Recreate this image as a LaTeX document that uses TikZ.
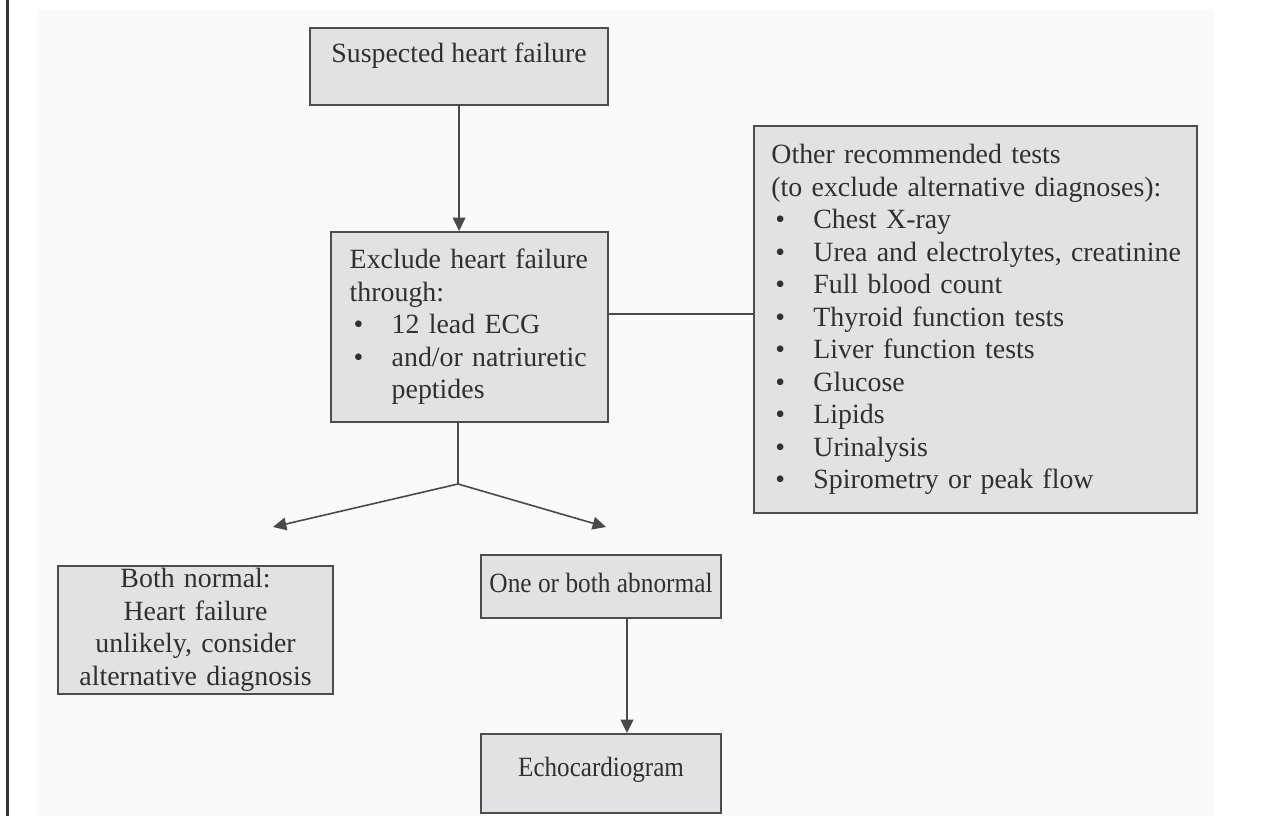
\documentclass[tikz,border=0pt]{standalone}
\usepackage{fontspec}
\usepackage{graphicx}
\setmainfont{Liberation Serif}
\usetikzlibrary{arrows.meta}
\definecolor{boxfill}{HTML}{E1E2E4}
\definecolor{boxline}{HTML}{4D4D4D}
\definecolor{conn}{HTML}{4A4A4A}
\definecolor{txt}{HTML}{303030}
\definecolor{bgpanel}{HTML}{FAFAFA}
\newcommand{\bitem}[1]{\mbox{\makebox[31.5pt][l]{\hspace{3pt}•}#1}}
\newcommand{\bcont}[1]{\mbox{\hspace*{31.5pt}#1}}
\begin{document}
\begin{tikzpicture}[x=0.75pt,y=-0.75pt,
  flowbox/.style={draw=boxline,fill=boxfill,line width=1.6pt,rectangle,anchor=north west,
    text=txt,font=\fontsize{20.9pt}{24.4pt}\selectfont,inner ysep=0pt},
  conline/.style={draw=conn,line width=1.2pt},
  arr/.style={conline,-{Triangle[length=10pt,width=9.5pt]}}]
\useasboundingbox (0,0) rectangle (1284,816);
\fill[bgpanel] (37,10) rectangle (1214,816);
\draw[line width=2.2pt,draw=black!80] (7.5,0) -- (7.5,816);

\node[flowbox,minimum width=223.5pt,minimum height=57.75pt,text height=15pt,text depth=21.8pt,inner xsep=10pt]
  (suspect) at (309,27) {Suspected heart failure};
\node[flowbox,minimum width=207.75pt,minimum height=142.5pt,inner xsep=14pt,text width=179.75pt,align=left]
  (exclude) at (330,231) {Exclude heart failure\\through:\\\bitem{12 lead ECG}\\\bitem{and/or natriuretic}\\\bcont{peptides}};
\node[flowbox,minimum width=332.25pt,minimum height=290.25pt,inner xsep=13pt,text width=306.25pt,align=left]
  (other) at (753,125) {Other recommended tests\\\mbox{(to exclude alternative diagnoses):}\\\bitem{Chest X-ray}\\\bitem{Urea and electrolytes, creatinine}\\\bitem{Full blood count}\\\bitem{Thyroid function tests}\\\bitem{Liver function tests}\\\bitem{Glucose}\\\bitem{Lipids}\\\bitem{Urinalysis}\\\bitem{Spirometry or peak flow}};
\node[flowbox,minimum width=206.25pt,minimum height=96pt,inner xsep=6pt,text width=194.25pt,align=center]
  (normal) at (57,565) {Both normal:\\Heart failure\\unlikely, consider\\alternative diagnosis};
\node[flowbox,minimum width=180pt,minimum height=47.25pt,inner xsep=4pt,text height=14.5pt,text depth=6pt]
  (abnormal) at (480,554) {\scalebox{0.91}[1]{One or both abnormal}};
\node[flowbox,minimum width=180pt,minimum height=59.25pt,inner xsep=6pt,text height=14pt,text depth=9pt]
  (echo) at (480,733) {\scalebox{0.9}[1]{Echocardiogram}};

\coordinate (hy) at (0,314);
\coordinate (split) at (458,484);
\coordinate (tipL) at (273,527);
\coordinate (tipR) at (606,527);
\coordinate (ax) at (627,0);

\draw[arr] (suspect.south) -- (suspect.south |- exclude.north);
\draw[conline] (exclude.east |- hy) -- (other.west |- hy);
\draw[conline] (split |- exclude.south) -- (split);
\draw[arr] (split) -- (tipL);
\draw[arr] (split) -- (tipR);
\draw[arr] (ax |- abnormal.south) -- (ax |- echo.north);
\end{tikzpicture}
\end{document}
